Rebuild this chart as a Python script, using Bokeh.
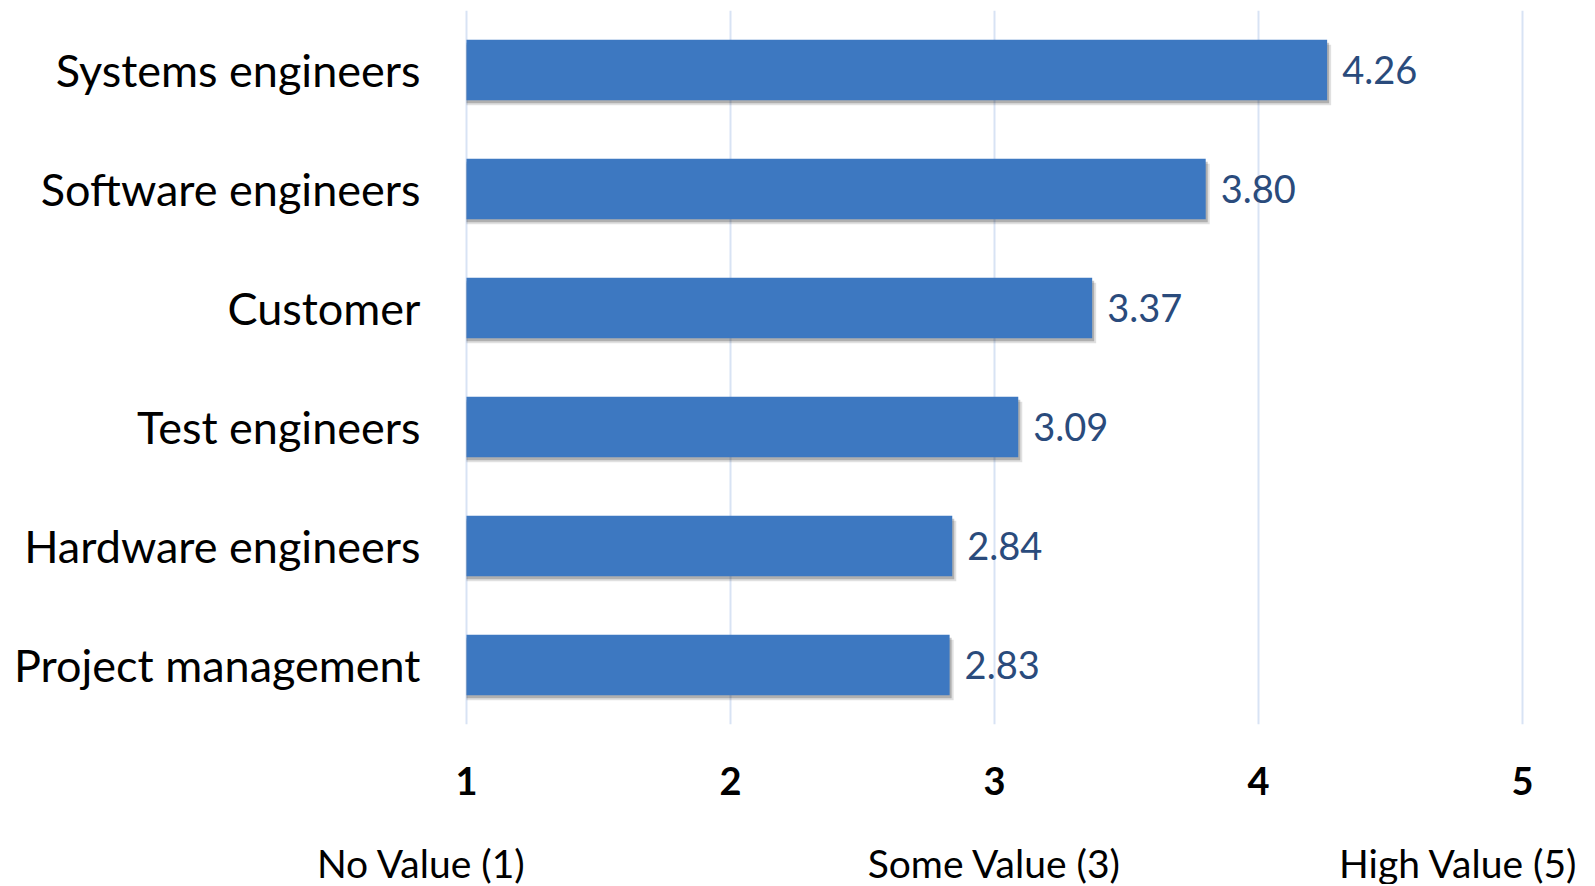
from bokeh.plotting import figure
from bokeh.models import FactorRange, Range1d, FixedTicker, ColumnDataSource
from bokeh.layouts import column
from bokeh.transform import dodge
from bokeh.core.properties import value
from bokeh.embed import file_html
from bokeh.resources import INLINE

categories = ["Systems engineers", "Software engineers", "Customer",
              "Test engineers", "Hardware engineers", "Project management"]
scores = [4.26, 3.80, 3.37, 3.09, 2.84, 2.83]
score_labels = ["4.26", "3.80", "3.37", "3.09", "2.84", "2.83"]
x_ticks = [1, 2, 3, 4, 5]
scale_labels = ["No Value (1)", "Some Value (3)", "High Value (5)"]
scale_points = [1, 3, 5]

FONT = "Lato"
BAR = "#3d78c1"

W = 1595
X1_PX = 466        # pixel position of x = 1
X5_PX = 1522       # pixel position of x = 5
PAD = 6            # keep edge grid lines inside the frame
PX_PER_UNIT = (X5_PX - X1_PX) / (x_ticks[-1] - x_ticks[0])
LEFT = X1_PX - PAD
RIGHT = W - X5_PX - PAD
H1 = 820
H2 = 64

src = ColumnDataSource(dict(
    cat=categories,
    score=scores,
    label=score_labels,
    base=[x_ticks[0]] * len(categories),
    shadow_right=[s + 4 / PX_PER_UNIT for s in scores],
    shadow_right2=[s + 2 / PX_PER_UNIT for s in scores],
))

p = figure(width=W, height=H1,
           y_range=FactorRange(*reversed(categories)),
           x_range=Range1d(x_ticks[0] - PAD / PX_PER_UNIT, x_ticks[-1] + PAD / PX_PER_UNIT),
           output_backend="svg", toolbar_location=None,
           min_border_left=LEFT, min_border_right=RIGHT,
           min_border_top=10, min_border_bottom=96)
p.outline_line_color = None
p.frame_align = False

p.ygrid.grid_line_color = None
p.xgrid.grid_line_color = "#d8e3f4"
p.xgrid.grid_line_width = 2

# soft drop shadow
p.hbar(y=dodge("cat", -5 / 119, range=p.y_range), left="base", right="shadow_right",
       height=0.51, source=src, fill_color="#000000", fill_alpha=0.12, line_color=None)
p.hbar(y=dodge("cat", -3 / 119, range=p.y_range), left="base", right="shadow_right2",
       height=0.51, source=src, fill_color="#000000", fill_alpha=0.22, line_color=None)
# bars
p.hbar(y="cat", left="base", right="score", height=0.51, source=src,
       fill_color=BAR, line_color=None)

# value labels
p.text(x="score", y="cat", text="label", source=src, x_offset=15,
       text_baseline="middle", text_align="left",
       text_font=value(FONT), text_font_size="38px", text_color="#2a4b7c")

p.yaxis.major_label_text_font = FONT
p.yaxis.major_label_text_font_size = "45px"
p.yaxis.major_label_text_color = "black"
p.yaxis.major_tick_line_color = None
p.yaxis.minor_tick_line_color = None
p.yaxis.axis_line_color = None
p.yaxis.major_label_standoff = 40 - PAD

p.xaxis.ticker = FixedTicker(ticks=x_ticks)
p.xaxis.major_label_text_font = FONT
p.xaxis.major_label_text_font_style = "bold"
p.xaxis.major_label_text_font_size = "38px"
p.xaxis.major_label_text_color = "black"
p.xaxis.major_tick_line_color = None
p.xaxis.minor_tick_line_color = None
p.xaxis.axis_line_color = None
p.xaxis.major_label_standoff = 36

# strip below with the scale descriptions (same x scale as the main plot)
p2 = figure(width=W, height=H2,
            x_range=Range1d(x_ticks[0] - X1_PX / PX_PER_UNIT,
                            x_ticks[-1] + (W - X5_PX) / PX_PER_UNIT),
            y_range=Range1d(H2, 0),
            output_backend="svg", toolbar_location=None,
            x_axis_location=None, y_axis_location=None,
            min_border_left=0, min_border_right=0, min_border_top=0, min_border_bottom=0)
p2.outline_line_color = None
p2.grid.visible = False
p2.frame_align = False

scale_src = ColumnDataSource(dict(
    x=scale_points,
    text=scale_labels,
    dx=[-45, 0, -64],
    y=[42] * len(scale_points),
))
p2.text(x="x", y="y", text="text", x_offset="dx", source=scale_src,
        text_align="center", text_baseline="middle",
        text_font=value(FONT), text_font_size="39px", text_color="black")

layout = column(p, p2, spacing=0)
open("out.html", "w").write(file_html(layout, INLINE))
